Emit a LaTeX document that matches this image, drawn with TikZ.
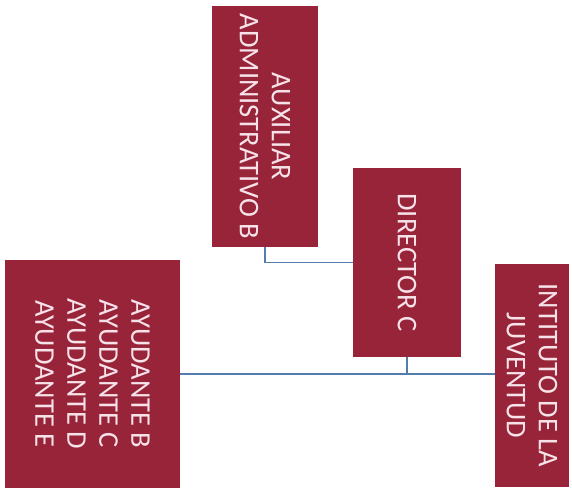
\documentclass[tikz,border=0pt]{standalone}
\usepackage{fontspec}
\setmainfont{Carlito}
\usepackage{tikz}
\usetikzlibrary{calc}

\definecolor{boxred}{RGB}{152,36,58}
\definecolor{boxtext}{RGB}{246,226,232}
\definecolor{linkblue}{RGB}{84,124,172}

\begin{document}
\begin{tikzpicture}[x=1pt,y=-1pt,
   orgbox/.style={fill=boxred, text=boxtext, rotate=-90, align=center,
      inner sep=0pt,
      font=\fontsize{28.5}{32}\selectfont},
   link/.style={draw=linkblue, line width=1.4pt}]

\useasboundingbox (0,0) rectangle (572,490);

% boxes, text turned clockwise
\node[orgbox, minimum width=241, minimum height=106] (aux) at (265,126.5)
   {AUXILIAR\\ADMINISTRATIVO B};
\node[orgbox, minimum width=189, minimum height=108] (dir) at (407,262.5)
   {DIRECTOR C};
\node[orgbox, minimum width=223, minimum height=74] (inst) at (532,375.5)
   {INTITUTO DE LA\\JUVENTUD};
\node[orgbox, minimum width=228, minimum height=175] (ayu) at (92.5,374)
   {AYUDANTE B\\AYUDANTE C\\AYUDANTE D\\AYUDANTE E};

% connectors
\draw[link] (aux.east) |- (dir.south);
\draw[link] (ayu.north) -- (ayu.north -| inst.south);
\draw[link] (dir.east) -- (dir.east |- ayu.north);
\end{tikzpicture}
\end{document}
